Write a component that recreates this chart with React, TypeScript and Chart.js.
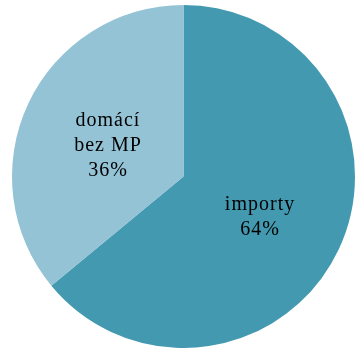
import React, { useEffect, useRef } from "react";
import { Chart, registerables } from "chart.js";

Chart.register(...registerables);

const categories = ["importy", "domácí bez MP"];
const labelLines = [["importy"], ["domácí", "bez MP"]];
const values = [64, 36];
const colors = ["#4399b0", "#94c3d5"];

const labelPlugin = {
  id: "sliceLabels",
  afterDatasetsDraw(chart: any) {
    const ctx = chart.ctx;
    const meta = chart.getDatasetMeta(0);
    const total = values.reduce((a, b) => a + b, 0);
    ctx.save();
    ctx.fillStyle = "#000";
    ctx.font = "20px 'Liberation Serif', 'Times New Roman', serif";
    const spacing = 1;
    try {
      (ctx as any).letterSpacing = spacing + "px";
    } catch (e) {}
    ctx.textAlign = "center";
    ctx.textBaseline = "alphabetic";
    meta.data.forEach((arc: any, i: number) => {
      const p = arc.getProps(["x", "y", "startAngle", "endAngle", "outerRadius"], true);
      const mid = (p.startAngle + p.endAngle) / 2;
      const r = p.outerRadius * 0.49;
      const cx = p.x + Math.cos(mid) * r;
      const cy = p.y + Math.sin(mid) * r + 10.6;
      const lines = [...labelLines[i], Math.round((values[i] / total) * 100) + "%"];
      const lh = 25;
      const start = cy - ((lines.length - 1) * lh) / 2;
      lines.forEach((t, j) => ctx.fillText(t, cx + spacing / 2, start + j * lh));
    });
    ctx.restore();
  },
};

export default function App() {
  const ref = useRef<HTMLCanvasElement>(null);
  useEffect(() => {
    document.body.style.margin = "0";
    const chart = new Chart(ref.current!, {
      type: "pie",
      data: {
        labels: categories,
        datasets: [
          {
            data: values,
            backgroundColor: colors,
            borderWidth: 0,
          },
        ],
      },
      options: {
        responsive: false,
        animation: false,
        layout: { padding: { top: 5, bottom: 2, left: 12, right: 3 } },
        plugins: { legend: { display: false }, tooltip: { enabled: false } },
      },
      plugins: [labelPlugin],
    });
    return () => chart.destroy();
  }, []);
  return (
    <div style={{ width: 358, height: 350 }}>
      <canvas ref={ref} width={358} height={350} />
    </div>
  );
}
